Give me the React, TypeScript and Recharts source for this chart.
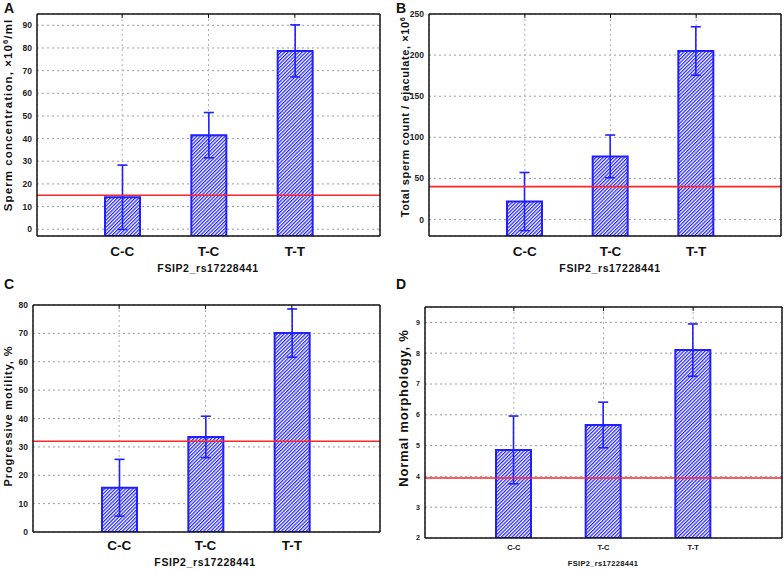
import React from "react";
import {
  BarChart,
  Bar,
  XAxis,
  YAxis,
  CartesianGrid,
  ReferenceLine,
  ErrorBar,
} from "recharts";

const GENOTYPES = ["C-C", "T-C", "T-T"];

// A: sperm concentration, x10^6/ml
const CONC_MEAN = [14.1, 41.5, 78.7];
const CONC_ERR = [14.2, 10.0, 11.5];
const CONC_NORM = 15;
const CONC_TICKS = [0, 10, 20, 30, 40, 50, 60, 70, 80, 90];

// B: total sperm count per ejaculate, x10^6
const TOTAL_MEAN = [21.9, 76.8, 205];
const TOTAL_ERR = [35.3, 26.0, 29.5];
const TOTAL_NORM = 40;
const TOTAL_TICKS = [0, 50, 100, 150, 200, 250];

// C: progressive motility, %
const MOTILITY_MEAN = [15.6, 33.5, 70.1];
const MOTILITY_ERR = [10.0, 7.3, 8.5];
const MOTILITY_NORM = 32;
const MOTILITY_TICKS = [0, 10, 20, 30, 40, 50, 60, 70, 80];

// D: normal morphology, %
const MORPH_MEAN = [4.86, 5.67, 8.1];
const MORPH_ERR = [1.1, 0.74, 0.85];
const MORPH_NORM = 3.95;
const MORPH_TICKS = [2, 3, 4, 5, 6, 7, 8, 9];

const X_TITLE = "FSIP2_rs17228441";

const FONT = "'Liberation Sans', Arial, sans-serif";
const BLUE = "#1f1fff";
const RED = "#ff2626";
const FRAME = { stroke: "#151515", strokeWidth: 1.5 };

function Panel({ id, left, top, width, height, margin, yWidth, xHeight, pad, domain, ticks, means, errs, norm, tickSize, catSize, catMargin }) {
  const data = GENOTYPES.map((g, i) => ({ genotype: g, span: [domain[0], means[i]], err: errs[i] }));
  const blank = () => "";
  return (
    <div style={{ position: "absolute", left, top }}>
      <BarChart width={width} height={height} data={data} margin={margin}>
        <defs>
          <pattern id={`hatch-${id}`} patternUnits="userSpaceOnUse" width="2.5" height="2.5" patternTransform="rotate(45)">
            <rect width="2.5" height="2.5" fill="#ffffff" />
            <line x1="0.6" y1="0" x2="0.6" y2="2.5" stroke="#2424ff" strokeWidth="1.25" />
          </pattern>
        </defs>
        <CartesianGrid vertical={false} stroke="#9a9aa4" strokeDasharray="2 3" />
        <CartesianGrid horizontal={false} stroke="#a9b0c8" strokeDasharray="2 3" />
        <XAxis
          dataKey="genotype"
          padding={pad}
          height={xHeight}
          interval={0}
          tickLine={false}
          tickSize={0}
          tickMargin={catMargin}
          axisLine={FRAME}
          tick={{ fontSize: catSize, fontWeight: 700, fill: "#111", fontFamily: FONT }}
        />
        <XAxis xAxisId="top" orientation="top" mirror dataKey="genotype" padding={pad} interval={0} tickFormatter={blank} tickSize={4} tickLine={{ stroke: "#111" }} axisLine={FRAME} />
        <YAxis
          domain={domain}
          ticks={ticks}
          width={yWidth}
          allowDataOverflow
          interval={0}
          tickLine={false}
          tickSize={0}
          tickMargin={5}
          axisLine={FRAME}
          tick={{ fontSize: tickSize, fontWeight: 700, fill: "#222", fontFamily: FONT }}
        />
        <YAxis yAxisId="left" orientation="left" mirror domain={domain} ticks={ticks} interval={0} tickFormatter={blank} tickSize={3} tickLine={{ stroke: "#111" }} axisLine={false} />
        <YAxis yAxisId="right" orientation="right" mirror domain={domain} ticks={ticks} interval={0} tickFormatter={blank} tickSize={4} tickLine={{ stroke: "#111" }} axisLine={FRAME} />
        <Bar dataKey="span" barSize={35} fill={`url(#hatch-${id})`} stroke={BLUE} strokeWidth={2} isAnimationActive={false}>
          <ErrorBar dataKey="err" direction="y" width={5} stroke={BLUE} strokeWidth={1.6} />
        </Bar>
        <ReferenceLine y={norm} stroke={RED} strokeWidth={1.6} />
      </BarChart>
    </div>
  );
}

function Txt({ x, y, size, rotate = false, ls = 0, children }) {
  return (
    <div
      style={{
        position: "absolute",
        left: x,
        top: y,
        transform: `translate(-50%, -50%)${rotate ? " rotate(-90deg)" : ""}`,
        whiteSpace: "nowrap",
        fontFamily: FONT,
        fontWeight: 700,
        fontSize: size,
        letterSpacing: ls,
        lineHeight: 1,
        color: "#111",
      }}
    >
      {children}
    </div>
  );
}

const sup = (s) => <sup style={{ fontSize: "0.65em", verticalAlign: "0.55em", lineHeight: 0 }}>{s}</sup>;

export default function App() {
  return (
    <div style={{ position: "absolute", left: 0, top: 0, width: 784, height: 573, background: "#fff", overflow: "hidden" }}>
      <Panel id="a" left={0} top={0} width={392} height={285} margin={{ top: 14, right: 12, bottom: 0, left: 0 }}
        yWidth={37} xHeight={49} pad={{ left: 42, right: 42 }} domain={[-3, 95]} ticks={CONC_TICKS}
        means={CONC_MEAN} errs={CONC_ERR} norm={CONC_NORM} tickSize={8.5} catSize={13.5} catMargin={10} />
      <Panel id="b" left={392} top={0} width={392} height={285} margin={{ top: 14, right: 3, bottom: 0, left: 0 }}
        yWidth={37} xHeight={49} pad={{ left: 53, right: 42 }} domain={[-20, 250]} ticks={TOTAL_TICKS}
        means={TOTAL_MEAN} errs={TOTAL_ERR} norm={TOTAL_NORM} tickSize={8.5} catSize={13.5} catMargin={10} />
      <Panel id="c" left={0} top={285} width={392} height={288} margin={{ top: 20, right: 12, bottom: 0, left: 0 }}
        yWidth={33} xHeight={41} pad={{ left: 43, right: 45 }} domain={[0, 80]} ticks={MOTILITY_TICKS}
        means={MOTILITY_MEAN} errs={MOTILITY_ERR} norm={MOTILITY_NORM} tickSize={8.5} catSize={13.5} catMargin={8} />
      <Panel id="d" left={392} top={285} width={392} height={288} margin={{ top: 22, right: 2, bottom: 0, left: 0 }}
        yWidth={33} xHeight={35} pad={{ left: 44, right: 44 }} domain={[2, 9.5]} ticks={MORPH_TICKS}
        means={MORPH_MEAN} errs={MORPH_ERR} norm={MORPH_NORM} tickSize={7} catSize={7.5} catMargin={7} />

      <Txt x={9} y={8} size={14}>A</Txt>
      <Txt x={401} y={8} size={14}>B</Txt>
      <Txt x={9} y={284} size={14}>C</Txt>
      <Txt x={401} y={284} size={14}>D</Txt>

      <Txt x={8.5} y={115} size={11.5} ls={1.1} rotate>Sperm concentration, ×10{sup("6")}/ml</Txt>
      <Txt x={405} y={117} size={11} ls={0.6} rotate>Total sperm count / ejaculate, ×10{sup("6")}</Txt>
      <Txt x={7.5} y={416} size={11} ls={0.9} rotate>Progressive motility, %</Txt>
      <Txt x={403} y={408} size={13} ls={0.8} rotate>Normal morphology, %</Txt>

      <Txt x={208} y={268} size={10.5} ls={0.6}>{X_TITLE}</Txt>
      <Txt x={610} y={268} size={10.5} ls={0.6}>{X_TITLE}</Txt>
      <Txt x={205} y={562} size={10.5} ls={0.6}>{X_TITLE}</Txt>
      <Txt x={603} y={564} size={7.5} ls={0.3}>{X_TITLE}</Txt>
    </div>
  );
}
